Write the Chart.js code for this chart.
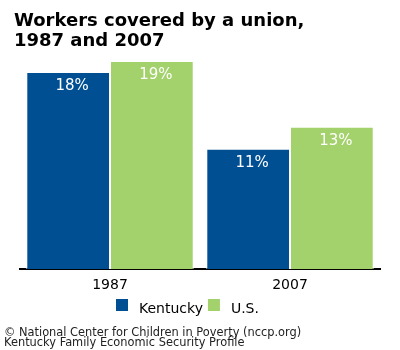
<!DOCTYPE html>
<html>
<head>
<meta charset="utf-8">
<script src="https://cdn.jsdelivr.net/npm/chart.js@4"></script>
<style>
  html, body { margin: 0; padding: 0; background: #fff; }
  #wrap { width: 400px; height: 350px; }
</style>
</head>
<body>
<div id="wrap"><canvas id="chartUnion"></canvas></div>
<script>
  const years = ["1987", "2007"];
  const kentucky = [18, 11];
  const usa = [19, 13];
  const titleLines = ["Workers covered by a union,", "1987 and 2007"];
  const footerLines = [
    "\u00a9 National Center for Children in Poverty (nccp.org)",
    "Kentucky Family Economic Security Profile"
  ];

  const blue = "#004f93";
  const green = "#a3d16b";
  const font = "'DejaVu Sans', Verdana, sans-serif";

  // title, legend, footer and value labels drawn straight on the canvas
  const textPlugin = {
    id: "texts",
    afterDatasetsDraw(chart) {
      const ctx = chart.ctx;
      ctx.save();
      ctx.fillStyle = "#fff";
      ctx.font = "15px " + font;
      ctx.textAlign = "center";
      ctx.textBaseline = "alphabetic";
      chart.data.datasets.forEach((ds, i) => {
        chart.getDatasetMeta(i).data.forEach((bar, j) => {
          ctx.fillText(ds.data[j] + "%", bar.x + 4, bar.y + 18);
        });
      });
      ctx.restore();
    },
    afterDraw(chart) {
      const ctx = chart.ctx;
      ctx.save();
      ctx.textAlign = "left";
      ctx.textBaseline = "alphabetic";

      ctx.fillStyle = "#000";
      ctx.font = "bold 18px " + font;
      ctx.fillText(titleLines[0], 14, 26);
      ctx.fillText(titleLines[1], 14, 46);

      // legend
      ctx.font = "14px " + font;
      let x = 116;
      chart.data.datasets.forEach((ds) => {
        ctx.fillStyle = ds.backgroundColor;
        ctx.fillRect(x, 299, 12, 12);
        ctx.fillStyle = "#000";
        ctx.fillText(ds.label, x + 23, 313);
        x += 23 + ctx.measureText(ds.label).width + 5;
      });

      ctx.fillStyle = "#222";
      ctx.font = "11.4px " + font;
      ctx.fillText(footerLines[0], 4, 336);
      ctx.fillText(footerLines[1], 4, 346);
      ctx.restore();
    }
  };

  new Chart(document.getElementById("chartUnion"), {
    type: "bar",
    data: {
      labels: years,
      datasets: [
        { label: "Kentucky", data: kentucky, backgroundColor: blue, borderColor: "#fff", borderWidth: 1, borderSkipped: "bottom" },
        { label: "U.S.", data: usa, backgroundColor: green, borderColor: "#fff", borderWidth: 1, borderSkipped: "bottom" }
      ]
    },
    options: {
      responsive: true,
      maintainAspectRatio: false,
      animation: false,
      layout: { padding: { top: 50, left: 20, right: 20, bottom: 48 } },
      datasets: { bar: { categoryPercentage: 0.93, barPercentage: 1 } },
      plugins: {
        legend: { display: false },
        tooltip: { enabled: false }
      },
      scales: {
        x: {
          grid: { display: false, drawTicks: false },
          border: { color: "#000", width: 2 },
          ticks: { color: "#000", font: { family: font, size: 14 }, padding: 8 }
        },
        y: { display: false, min: 0, max: 20 }
      }
    },
    plugins: [textPlugin]
  });
</script>
</body>
</html>
